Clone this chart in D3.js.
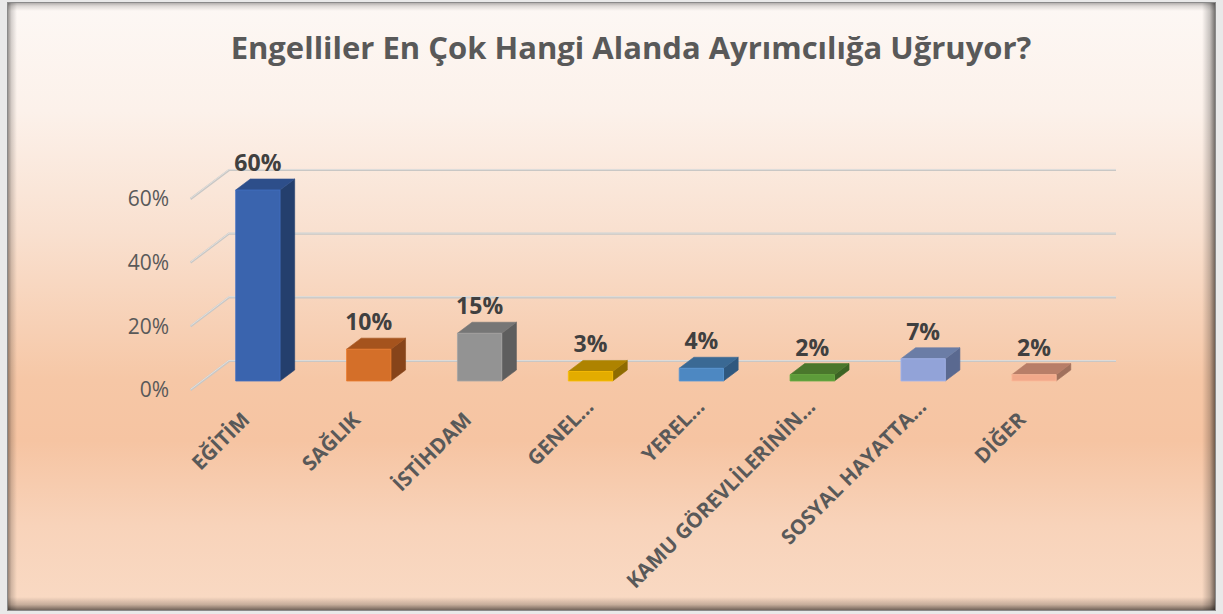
<!DOCTYPE html>
<html>
<head>
<meta charset="utf-8">
<script src="https://cdn.jsdelivr.net/npm/d3@7"></script>
<style>
  html, body { margin: 0; padding: 0; background: #e9e9e9; }
  svg { display: block; }
</style>
</head>
<body>
<svg id="chart" width="1223" height="614"></svg>
<script>
// ---- data ----
const title = "Engelliler En Çok Hangi Alanda Ayrımcılığa Uğruyor?";
const categories = ["EĞİTİM", "SAĞLIK", "İSTİHDAM", "GENEL...", "YEREL...", "KAMU GÖREVLİLERİNİN...", "SOSYAL HAYATTA...", "DİĞER"];
const values = [0.60, 0.10, 0.15, 0.03, 0.04, 0.02, 0.07, 0.02];
const yTicks = [0, 0.2, 0.4, 0.6];

// ---- styles ----
const frontColors = ["#3A64AE", "#D46F29", "#939393", "#E3AC00", "#4D88C2", "#5D9B3A", "#92A3D8", "#F1A88A"];
const topColors   = ["#2D4E8A", "#A5531D", "#767676", "#AE8300", "#3A6994", "#4A772C", "#6B7DA6", "#B87E68"];
const sideColors  = ["#243F6D", "#87441A", "#5E5E5E", "#8E6B00", "#2F587F", "#3C6424", "#5A6990", "#A0705C"];

const svg = d3.select("#chart");
const W = 1223, H = 614;

// ---- background & frame ----
const defs = svg.append("defs");
const bg = defs.append("linearGradient").attr("id", "bg").attr("x1", 0).attr("y1", 0).attr("x2", 0).attr("y2", 1);
[[0, "#FDF8F5"], [0.18, "#FCF1EA"], [0.38, "#F9E0CF"], [0.62, "#F6C7A6"], [0.72, "#F6C4A2"], [0.86, "#F8D3BA"], [1, "#F9DAC4"]]
  .forEach(([o, c]) => bg.append("stop").attr("offset", o).attr("stop-color", c));

function edgeGrad(id, x1, y1, x2, y2, op) {
  const g = defs.append("linearGradient").attr("id", id)
    .attr("x1", x1).attr("y1", y1).attr("x2", x2).attr("y2", y2);
  g.append("stop").attr("offset", 0).attr("stop-color", "#000").attr("stop-opacity", op);
  g.append("stop").attr("offset", 0.45).attr("stop-color", "#000").attr("stop-opacity", op * 0.35);
  g.append("stop").attr("offset", 1).attr("stop-color", "#000").attr("stop-opacity", 0);
}
edgeGrad("eTop", 0, 0, 0, 1, 0.35);
edgeGrad("eLeft", 0, 0, 1, 0, 0.45);
edgeGrad("eRight", 1, 0, 0, 0, 0.6);
edgeGrad("eBottom", 0, 1, 0, 0, 0.6);

const fx0 = 7, fy0 = 2, fx1 = 1216, fy1 = 611;
svg.append("rect").attr("x", fx0).attr("y", fy0).attr("width", fx1 - fx0).attr("height", fy1 - fy0)
  .attr("fill", "url(#bg)");
svg.append("rect").attr("x", fx0).attr("y", fy0).attr("width", fx1 - fx0).attr("height", 9).attr("fill", "url(#eTop)");
svg.append("rect").attr("x", fx0).attr("y", fy0).attr("width", 10).attr("height", fy1 - fy0).attr("fill", "url(#eLeft)");
svg.append("rect").attr("x", fx1 - 14).attr("y", fy0).attr("width", 14).attr("height", fy1 - fy0).attr("fill", "url(#eRight)");
svg.append("rect").attr("x", fx0).attr("y", fy1 - 14).attr("width", fx1 - fx0).attr("height", 14).attr("fill", "url(#eBottom)");
svg.append("rect").attr("x", fx0 + 0.5).attr("y", fy0 + 0.5).attr("width", fx1 - fx0 - 1).attr("height", fy1 - fy0 - 1)
  .attr("fill", "none").attr("stroke", "#8a8a8a").attr("stroke-width", 1);

// ---- title ----
svg.append("text").attr("x", 631).attr("y", 59)
  .attr("text-anchor", "middle")
  .attr("font-family", "'Open Sans', sans-serif").attr("font-weight", 700).attr("font-size", 31)
  .attr("fill", "#595959").text(title);

// ---- scales (back wall) ----
const backLeft = 229, backRight = 1116;
const depthX = 38.5, depthY = 29;     // full floor depth vector (front -> back is +x, -y)
const x = d3.scaleBand().domain(categories).range([backLeft, backRight]).padding(0);
const y = d3.scaleLinear().domain([0, 0.6]).range([361, 170]);
// point at depth t (0 = front edge, 1 = back wall)
const P = (xb, v, t) => [xb + (t - 1) * depthX, y(v) + (1 - t) * depthY];
const tFront = 0.31, tBack = 0.69;
const barW = x.bandwidth() * 0.4;

// ---- gridlines ----
const grid = svg.append("g");
yTicks.forEach(v => {
  const a = P(backRight, v, 1), b = P(backLeft, v, 1), c = P(backLeft, v, 0);
  grid.append("path").attr("d", d3.line()([a, b, c]))
    .attr("fill", "none").attr("stroke", "#C9C7C5").attr("stroke-width", 2.2);
  grid.append("path").attr("d", d3.line()([a, b, c]))
    .attr("fill", "none").attr("stroke", "#E6E4E2").attr("stroke-width", 0.8)
    .attr("transform", "translate(0,-0.6)");
});

// ---- y axis labels ----
const yAxis = d3.axisLeft(y).tickValues(yTicks).tickFormat(d3.format(".0%")).tickSize(0).tickPadding(0);
const gy = svg.append("g").attr("transform", `translate(169,${depthY})`).call(yAxis);
gy.select(".domain").remove();
gy.selectAll("text").attr("font-family", "'Open Sans', sans-serif").attr("font-size", 21)
  .attr("fill", "#595959");

// ---- bars ----
const bars = svg.append("g");
categories.forEach((cat, i) => {
  const v = values[i];
  const xc = x(cat) + x.bandwidth() / 2;
  const xl = xc - barW / 2, xr = xc + barW / 2;
  const fbl = P(xl, 0, tFront), fbr = P(xr, 0, tFront), ftl = P(xl, v, tFront), ftr = P(xr, v, tFront);
  const bbr = P(xr, 0, tBack), btl = P(xl, v, tBack), btr = P(xr, v, tBack);
  const line = d3.line();
  // side
  bars.append("path").attr("d", line([fbr, bbr, btr, ftr]) + "Z").attr("fill", sideColors[i])
    .attr("stroke", sideColors[i]).attr("stroke-width", 0.6);
  // top
  bars.append("path").attr("d", line([ftl, ftr, btr, btl]) + "Z").attr("fill", topColors[i])
    .attr("stroke", topColors[i]).attr("stroke-width", 0.6);
  // front
  bars.append("path").attr("d", line([fbl, fbr, ftr, ftl]) + "Z").attr("fill", frontColors[i])
    .attr("stroke", d3.color(frontColors[i]).brighter(0.3)).attr("stroke-width", 0.8);

  // data label
  const lbl = P(xc, v, tBack);
  svg.append("text").attr("x", xc + (tFront - 1) * depthX).attr("y", lbl[1] - 8)
    .attr("text-anchor", "middle")
    .attr("font-family", "'Open Sans', sans-serif").attr("font-weight", 700).attr("font-size", 23)
    .attr("fill", "#404040").text(d3.format(".0%")(v));

  // category label
  const cf = xc + (tFront - 1) * depthX;
  const trunc = cat.endsWith("...");
  const ax = trunc ? cf + 4.5 : cf - 7;
  const ay = trunc ? 408 : 421;
  svg.append("text").attr("transform", `translate(${ax},${ay}) rotate(-45)`)
    .attr("text-anchor", "end")
    .attr("font-family", "'Open Sans', sans-serif").attr("font-weight", 700).attr("font-size", 20.5)
    .attr("fill", "#595959").text(cat);
});
</script>
</body>
</html>
